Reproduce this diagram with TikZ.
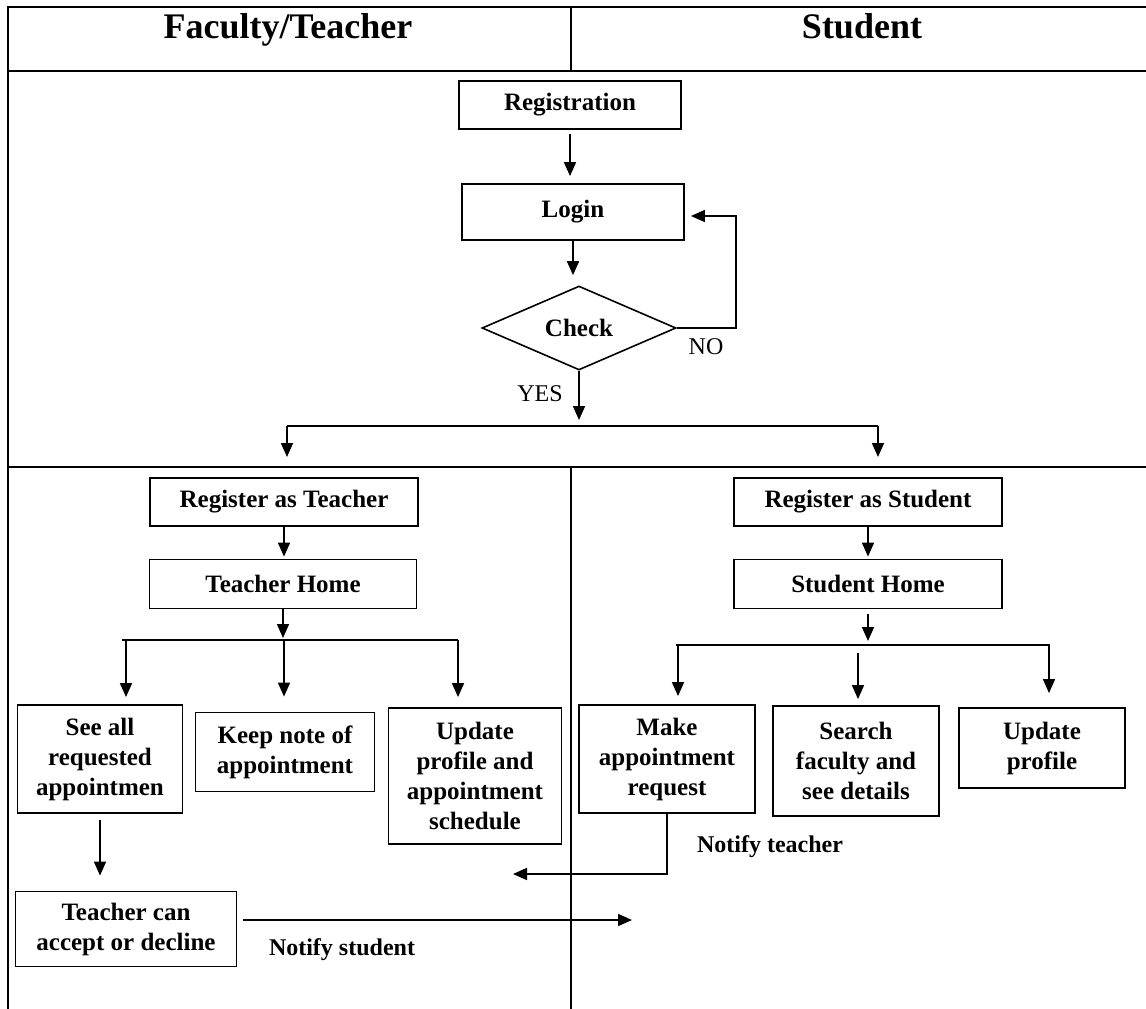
\documentclass[tikz,border=0pt]{standalone}
\usepackage{fontspec}
\setmainfont{Liberation Serif}
\usetikzlibrary{arrows.meta,shapes}
\tikzstyle{box}=[draw,line width=1.8pt,align=center,inner sep=2pt,font=\bfseries\fontsize{25}{30}\selectfont]
\tikzstyle{decision}=[draw,diamond,aspect=2.3,line width=1.6pt,inner sep=0pt,font=\bfseries\fontsize{25}{30}\selectfont]
\tikzstyle{arrowline} = [draw,line width=1.6pt,-{Triangle[length=14pt,width=12pt]}]
\tikzstyle{plainline} = [draw,line width=1.6pt]
\tikzstyle{lane} = [draw,line width=1.8pt]
\tikzstyle{lanetitle} = [anchor=base,font=\bfseries\fontsize{36}{40}\selectfont]
\tikzstyle{note} = [font=\bfseries\fontsize{24}{28}\selectfont]
\tikzstyle{tag} = [font=\fontsize{24}{28}\selectfont]

\begin{document}
\begin{tikzpicture}[x=1pt,y=-1pt]
    \useasboundingbox (0,0) rectangle (1146,1009);
    % Swimlane frame and titles
    \path[lane] (8,1009) -- (8,7) -- (1146,7);
    \path[lane] (8,71) -- (1146,71);
    \path[lane] (8,467) -- (1146,467);
    \path[lane] (571,7) -- (571,71);
    \path[lane] (571,467) -- (571,1009);
    \node[lanetitle] (fac) at (288,38) {Faculty/Teacher};
    \node[lanetitle] (stu) at (862,38) {Student};

    % Common part: registration, login and check
    \node[box,minimum width=222pt,minimum height=48pt] (reg) at (570,105) {Registration};
    \node[box,minimum width=222pt,minimum height=56pt] (login) at (573,212) {Login};
    \node[decision,minimum width=194pt,minimum height=84pt] (check) at (579,328) {Check};
    \path[arrowline,shorten <=4pt,shorten >=7pt] (reg.south) -- (reg.south |- login.north);
    \path[arrowline,shorten >=10pt] (login.south) -- (login.south |- check.north);
    \path[arrowline] (check.east) -- ++(59,0) |- ([shift={(6,4)}]login.east);
    \node[tag] (no) at (706,347) {NO};
    \node[tag] (yes) at (540,394) {YES};

    % Split into the two lanes
    \coordinate (fork) at (579,426);
    \coordinate (forkl) at (287,426);
    \coordinate (forkr) at (878,426);
    \path[arrowline,shorten >=6pt] (check.south) -- (fork);
    \path[plainline] (forkl) -- (forkr);
    \path[arrowline] (forkl) -- ++(0,31);
    \path[arrowline] (forkr) -- ++(0,31);

    % Teacher lane
    \node[box,minimum width=268pt,minimum height=48pt] (regt) at (284,502) {Register as Teacher};
    \node[box,minimum width=267pt,minimum height=49pt] (homet) at (283,584) {Teacher Home};
    \node[box,minimum width=165pt,minimum height=108pt] (seeall) at (100,759) {See all\\requested\\appointmen};
    \node[box,minimum width=179pt,minimum height=79pt] (keep) at (285,752) {Keep note of\\appointment};
    \node[box,minimum width=173pt,minimum height=136pt] (updt) at (475,776) {Update\\profile and\\appointment\\schedule};
    \node[box,minimum width=221pt,minimum height=75pt] (accept) at (126,929) {Teacher can\\accept or decline};
    \coordinate (tfork) at (283,640);
    \coordinate (tforkl) at (122,640);
    \coordinate (tforkr) at (458,640);
    \path[arrowline,shorten >=2pt] (regt.south) -- (regt.south |- homet.north);
    \path[arrowline,shorten >=2pt] (homet.south) -- (tfork);
    \path[plainline] (tforkl) -- (tforkr);
    \foreach \x/\dest/\gap in {126/seeall/7, 284/keep/15, 458/updt/10}
        \path[arrowline,shorten >=\gap pt] (\x,640) -- (\x,640 |- \dest.north);
    \path[arrowline,shorten <=6pt,shorten >=15pt] (seeall.south) -- (seeall.south |- accept.north);

    % Student lane
    \node[box,minimum width=268pt,minimum height=48pt] (regs) at (868,502) {Register as Student};
    \node[box,minimum width=268pt,minimum height=49pt] (homes) at (868,584) {Student Home};
    \node[box,minimum width=176pt,minimum height=108pt] (make) at (667,759) {Make\\appointment\\request};
    \node[box,minimum width=166pt,minimum height=110pt] (search) at (856,761) {Search\\faculty and\\see details};
    \node[box,minimum width=166pt,minimum height=80pt] (upds) at (1042,748) {Update\\profile};
    \coordinate (sfork) at (868,645);
    \coordinate (sforkl) at (676,645);
    \coordinate (sforkr) at (1050,645);
    \path[arrowline,shorten >=2pt] (regs.south) -- (regs.south |- homes.north);
    \path[arrowline,shorten <=5pt,shorten >=4pt] (homes.south) -- (sfork);
    \path[plainline] (sforkl) -- (sforkr);
    \foreach \x/\y/\dest/\gap in {678/645/make/8, 858/653/search/6, 1049/645/upds/14}
        \path[arrowline,shorten >=\gap pt] (\x,\y) -- (\x,\y |- \dest.north);

    % Notifications between the lanes
    \coordinate (ntturn) at (667,874);
    \coordinate (ntend) at (513,874);
    \coordinate (nsend) at (632,920);
    \path[arrowline] (make.south) -- (ntturn) -- (ntend);
    \path[arrowline] ([shift={(6,-9)}]accept.east) -- (nsend);
    \node[note] (ntlabel) at (770,847) {Notify teacher};
    \node[note] (nslabel) at (342,950) {Notify student};
\end{tikzpicture}
\end{document}
